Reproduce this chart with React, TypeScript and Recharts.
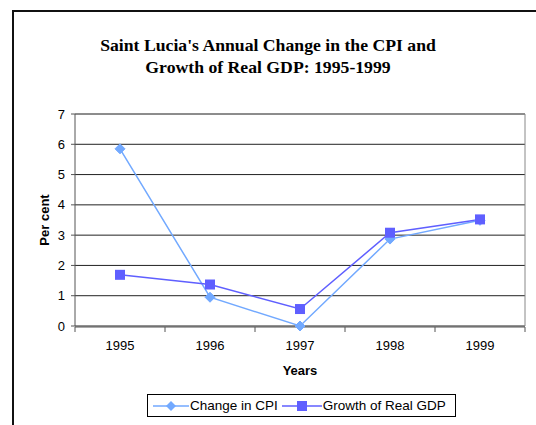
import React from 'react';
import { LineChart, Line, XAxis, YAxis, CartesianGrid, Legend } from 'recharts';

const years = [1995, 1996, 1997, 1998, 1999];
const cpiChange = [5.85, 0.95, 0.0, 2.87, 3.49];
const realGdpGrowth = [1.69, 1.37, 0.56, 3.08, 3.52];
const yTicks = [0, 1, 2, 3, 4, 5, 6, 7];
const boundaryTicks = [1994.5, 1995.5, 1996.5, 1997.5, 1998.5, 1999.5];

const seriesNames = { cpi: 'Change in CPI', gdp: 'Growth of Real GDP' };
const CPI_COLOR = '#72A9FF';
const GDP_COLOR = '#5F5FFF';

const data = years.map((y, i) => ({ year: y, cpi: cpiChange[i], gdp: realGdpGrowth[i] }));

const FONT = '"Liberation Sans", Arial, sans-serif';

const Diamond = (props: any) => {
  const { cx, cy } = props;
  if (cx == null || cy == null) return null;
  const r = 5;
  return (
    <polygon
      key={`d-${cx}`}
      points={`${cx},${cy - r} ${cx + r},${cy} ${cx},${cy + r} ${cx - r},${cy}`}
      fill={CPI_COLOR}
      stroke={CPI_COLOR}
    />
  );
};

const Square = (props: any) => {
  const { cx, cy } = props;
  if (cx == null || cy == null) return null;
  const r = 5;
  return <rect key={`s-${cx}`} x={cx - r} y={cy - r} width={2 * r} height={2 * r} fill={GDP_COLOR} />;
};

const LegendContent = () => {
  const items = [
    { name: seriesNames.cpi, color: CPI_COLOR, shape: 'diamond', w: 36 },
    { name: seriesNames.gdp, color: GDP_COLOR, shape: 'square', w: 40 },
  ];
  return (
    <div
      style={{
        display: 'flex',
        alignItems: 'center',
        border: '1px solid #000',
        background: '#fff',
        height: 23,
        boxSizing: 'border-box',
        padding: '0 9px 0 5px',
        fontFamily: FONT,
        fontSize: 13.5,
        color: '#000',
        whiteSpace: 'nowrap',
      }}
    >
      {items.map((it, i) => {
        const mid = it.w / 2;
        return (
          <div key={it.name} style={{ display: 'flex', alignItems: 'center', marginRight: i === 0 ? 4 : 0 }}>
            <svg width={it.w} height={12} style={{ marginRight: 1 }}>
              <line x1={0} y1={6} x2={it.w} y2={6} stroke={it.color} strokeWidth={1.5} />
              {it.shape === 'diamond' ? (
                <polygon points={`${mid},1 ${mid + 5},6 ${mid},11 ${mid - 5},6`} fill={it.color} />
              ) : (
                <rect x={mid - 5} y={1} width={10} height={10} fill={it.color} />
              )}
            </svg>
            <span>{it.name}</span>
          </div>
        );
      })}
    </div>
  );
};

export default function App() {
  return (
    <div style={{ position: 'fixed', left: 0, top: 0, width: 536, height: 425, overflow: 'hidden', background: '#fff' }}>
      <svg width={536} height={425} style={{ position: 'absolute', left: 0, top: 0 }}>
        <line x1={12} y1={11} x2={536} y2={11} stroke="#111" strokeWidth={2} />
        <line x1={13} y1={10} x2={13} y2={425} stroke="#111" strokeWidth={2} />
      </svg>
      <div
        style={{
          position: 'absolute',
          left: 0,
          width: 536,
          top: 34,
          textAlign: 'center',
          fontFamily: '"Liberation Serif", "Times New Roman", serif',
          fontWeight: 'bold',
          fontSize: 17.7,
          lineHeight: '22px',
          color: '#000',
        }}
      >
        Saint Lucia's Annual Change in the CPI and
        <br />
        Growth of Real GDP: 1995-1999
      </div>
      <div
        style={{
          position: 'absolute',
          left: 44,
          top: 220,
          transform: 'translate(-50%, -50%) rotate(-90deg)',
          fontFamily: FONT,
          fontWeight: 'bold',
          fontSize: 13,
          whiteSpace: 'nowrap',
          color: '#000',
        }}
      >
        Per cent
      </div>
      <div
        style={{
          position: 'absolute',
          left: 300,
          top: 370,
          transform: 'translate(-50%, -50%)',
          fontFamily: FONT,
          fontWeight: 'bold',
          fontSize: 13,
          color: '#000',
        }}
      >
        Years
      </div>
      <div style={{ position: 'absolute', left: 0, top: 0 }}>
        <LineChart width={536} height={425} data={data} margin={{ top: 113, right: 10, bottom: 97, left: 74 }}>
          <CartesianGrid horizontal vertical={false} stroke="#222" xAxisId="lab" yAxisId="y" />
          <XAxis
            xAxisId="tk"
            type="number"
            dataKey="year"
            domain={[1994.5, 1999.5]}
            ticks={boundaryTicks}
            height={1}
            tickSize={5}
            tickFormatter={() => ''}
            axisLine={{ stroke: '#555' }}
            tickLine={{ stroke: '#555' }}
            allowDecimals
            interval={0}
          />
          <XAxis
            xAxisId="lab"
            type="number"
            dataKey="year"
            domain={[1994.5, 1999.5]}
            ticks={years}
            height={1}
            tickSize={6}
            tickMargin={9}
            axisLine={false}
            tickLine={false}
            interval={0}
            tickFormatter={(v: number) => String(v)}
            tick={{ fontFamily: FONT, fontSize: 13, fill: '#000' }}
          />
          <XAxis
            xAxisId="top"
            orientation="top"
            type="number"
            dataKey="year"
            domain={[1994.5, 1999.5]}
            height={1}
            tick={false}
            tickLine={false}
            axisLine={{ stroke: '#888' }}
          />
          <YAxis
            yAxisId="y"
            domain={[0, 7]}
            ticks={yTicks}
            width={1}
            tickSize={4}
            tickMargin={6}
            interval={0}
            axisLine={{ stroke: '#555' }}
            tickLine={{ stroke: '#555' }}
            tick={{ fontFamily: FONT, fontSize: 13, fill: '#000' }}
          />
          <YAxis
            yAxisId="r"
            orientation="right"
            domain={[0, 7]}
            width={1}
            tick={false}
            tickLine={false}
            axisLine={{ stroke: '#888' }}
          />
          <Line
            xAxisId="lab"
            yAxisId="y"
            dataKey="cpi"
            name={seriesNames.cpi}
            stroke={CPI_COLOR}
            strokeWidth={1.5}
            dot={Diamond}
            activeDot={false}
            isAnimationActive={false}
          />
          <Line
            xAxisId="lab"
            yAxisId="y"
            dataKey="gdp"
            name={seriesNames.gdp}
            stroke={GDP_COLOR}
            strokeWidth={1.5}
            dot={Square}
            activeDot={false}
            isAnimationActive={false}
          />
          <Legend
            verticalAlign="middle"
            align="center"
            layout="horizontal"
            content={<LegendContent />}
            wrapperStyle={{ position: 'absolute', left: 147, top: 394, width: 'auto', height: 23 }}
          />
        </LineChart>
      </div>
    </div>
  );
}
